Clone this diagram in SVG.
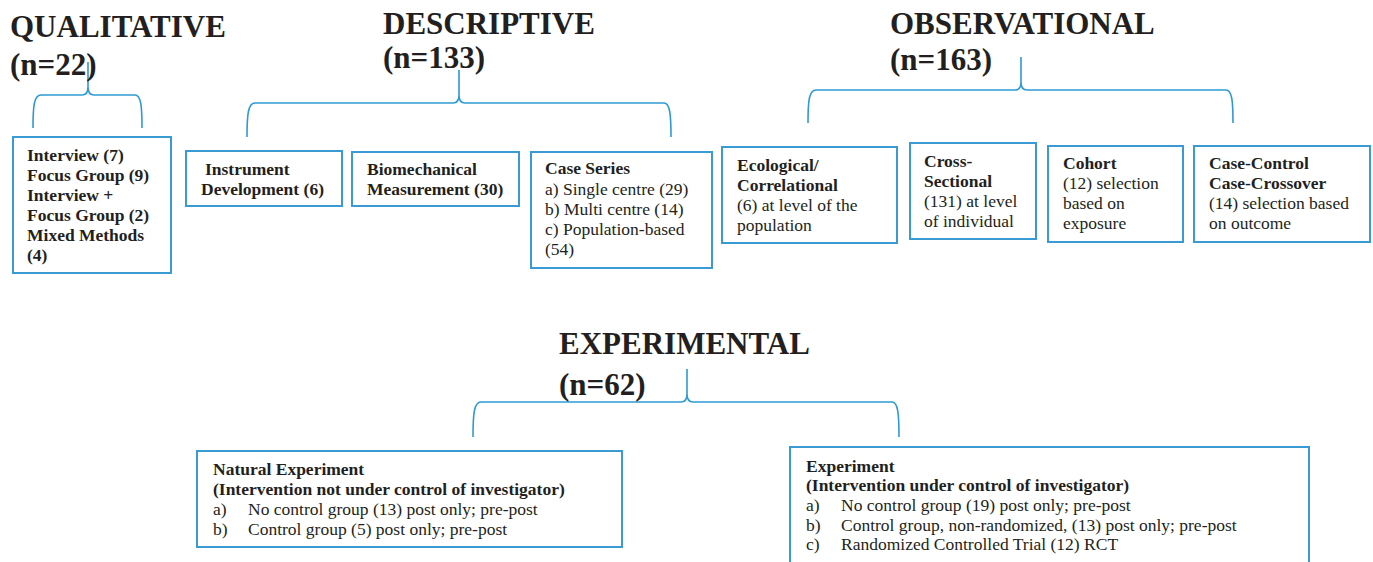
<svg xmlns="http://www.w3.org/2000/svg" width="1373" height="562" viewBox="0 0 1373 562">
<style>
text{font-family:"Liberation Serif","Times New Roman",serif;fill:#231F20;}
.t{font-size:31px;font-weight:bold;}
.b{font-size:17.5px;font-weight:bold;}
.r{font-size:17.5px;}
.box{fill:#fff;stroke:#3A9AD4;stroke-width:2;}
.br{fill:none;stroke:#2F9AD2;stroke-width:1.6;}
</style>
<rect width="1373" height="562" fill="#fff"/>

<g id="connectors">
<path class="br" d="M33,128 C33,106 34,95 41,95 L82,95 Q88,95 88,87 L88,62 M88,87 Q88,95 94,95 L135,95 C141,95 142,106 142,128"/>
<path class="br" d="M247,137 C247,115 248,103 255,103 L453,103 Q459,103 459,95 L459,70 M459,95 Q459,103 465,103 L664,103 C670,103 671,115 671,137"/>
<path class="br" d="M808,123 C808,101 809,90 816,90 L1015,90 Q1021,90 1021,82 L1021,57 M1021,82 Q1021,90 1027,90 L1226,90 C1232,90 1233,101 1233,123"/>
<path class="br" d="M473,437 C473,414 474,402 481,402 L681,402 Q687,402 687,394 L687,369 M687,394 Q687,402 693,402 L892,402 C898,402 899,414 899,437"/>
</g>

<g id="title-qualitative">
<text class="t" x="10" y="37">QUALITATIVE</text>
<text class="t" x="10" y="75">(n=22)</text>
</g>
<g id="title-descriptive">
<text class="t" x="383" y="34">DESCRIPTIVE</text>
<text class="t" x="383" y="68">(n=133)</text>
</g>
<g id="title-observational">
<text class="t" x="890" y="34">OBSERVATIONAL</text>
<text class="t" x="890" y="70">(n=163)</text>
</g>
<g id="title-experimental">
<text class="t" x="559" y="354">EXPERIMENTAL</text>
<text class="t" x="559" y="395">(n=62)</text>
</g>

<g id="node-qualitative">
<rect class="box" x="13" y="137" width="158" height="136"/>
<text class="b" x="27" y="161">Interview (7)</text>
<text class="b" x="27" y="181">Focus Group (9)</text>
<text class="b" x="27" y="201">Interview +</text>
<text class="b" x="27" y="221">Focus Group (2)</text>
<text class="b" x="27" y="241">Mixed Methods</text>
<text class="b" x="27" y="261">(4)</text>
</g>

<g id="node-instrument">
<rect class="box" x="186" y="151" width="156" height="55"/>
<text class="b" x="205" y="175">Instrument</text>
<text class="b" x="201" y="195">Development (6)</text>
</g>

<g id="node-biomech">
<rect class="box" x="352" y="152" width="167" height="54"/>
<text class="b" x="367" y="175">Biomechanical</text>
<text class="b" x="367" y="195">Measurement (30)</text>
</g>

<g id="node-caseseries">
<rect class="box" x="531" y="152" width="181" height="116"/>
<text class="b" x="545" y="174">Case Series</text>
<text class="r" x="545" y="195">a) Single centre (29)</text>
<text class="r" x="545" y="215">b) Multi centre (14)</text>
<text class="r" x="545" y="235">c) Population-based</text>
<text class="r" x="545" y="255">(54)</text>
</g>

<g id="node-ecological">
<rect class="box" x="722" y="147" width="175" height="96"/>
<text class="b" x="737" y="171">Ecological/</text>
<text class="b" x="737" y="191">Correlational</text>
<text class="r" x="737" y="211">(6) at level of the</text>
<text class="r" x="737" y="231">population</text>
</g>

<g id="node-cross">
<rect class="box" x="910" y="143" width="126" height="96"/>
<text class="b" x="924" y="167">Cross-</text>
<text class="b" x="924" y="187">Sectional</text>
<text class="r" x="924" y="207">(131) at level</text>
<text class="r" x="924" y="227">of individual</text>
</g>

<g id="node-cohort">
<rect class="box" x="1048" y="146" width="135" height="96"/>
<text class="b" x="1063" y="169">Cohort</text>
<text class="r" x="1063" y="189">(12) selection</text>
<text class="r" x="1063" y="209">based on</text>
<text class="r" x="1063" y="229">exposure</text>
</g>

<g id="node-casecontrol">
<rect class="box" x="1194" y="146" width="176" height="96"/>
<text class="b" x="1209" y="169">Case-Control</text>
<text class="b" x="1209" y="189">Case-Crossover</text>
<text class="r" x="1209" y="209">(14) selection based</text>
<text class="r" x="1209" y="229">on outcome</text>
</g>

<g id="node-natural">
<rect class="box" x="197" y="451" width="425" height="96"/>
<text class="b" x="213" y="475">Natural Experiment</text>
<text class="b" x="213" y="495">(Intervention not under control of investigator)</text>
<text class="r" x="213" y="515">a)</text>
<text class="r" x="248" y="515">No control group (13) post only; pre-post</text>
<text class="r" x="213" y="535">b)</text>
<text class="r" x="248" y="535">Control group (5) post only; pre-post</text>
</g>

<g id="node-experiment">
<rect class="box" x="790" y="447" width="519" height="130"/>
<text class="b" x="806" y="472">Experiment</text>
<text class="b" x="806" y="491">(Intervention under control of investigator)</text>
<text class="r" x="806" y="511">a)</text>
<text class="r" x="841" y="511">No control group (19) post only; pre-post</text>
<text class="r" x="806" y="531">b)</text>
<text class="r" x="841" y="531">Control group, non-randomized, (13) post only; pre-post</text>
<text class="r" x="806" y="550">c)</text>
<text class="r" x="841" y="550">Randomized Controlled Trial (12) RCT</text>
</g>
</svg>
